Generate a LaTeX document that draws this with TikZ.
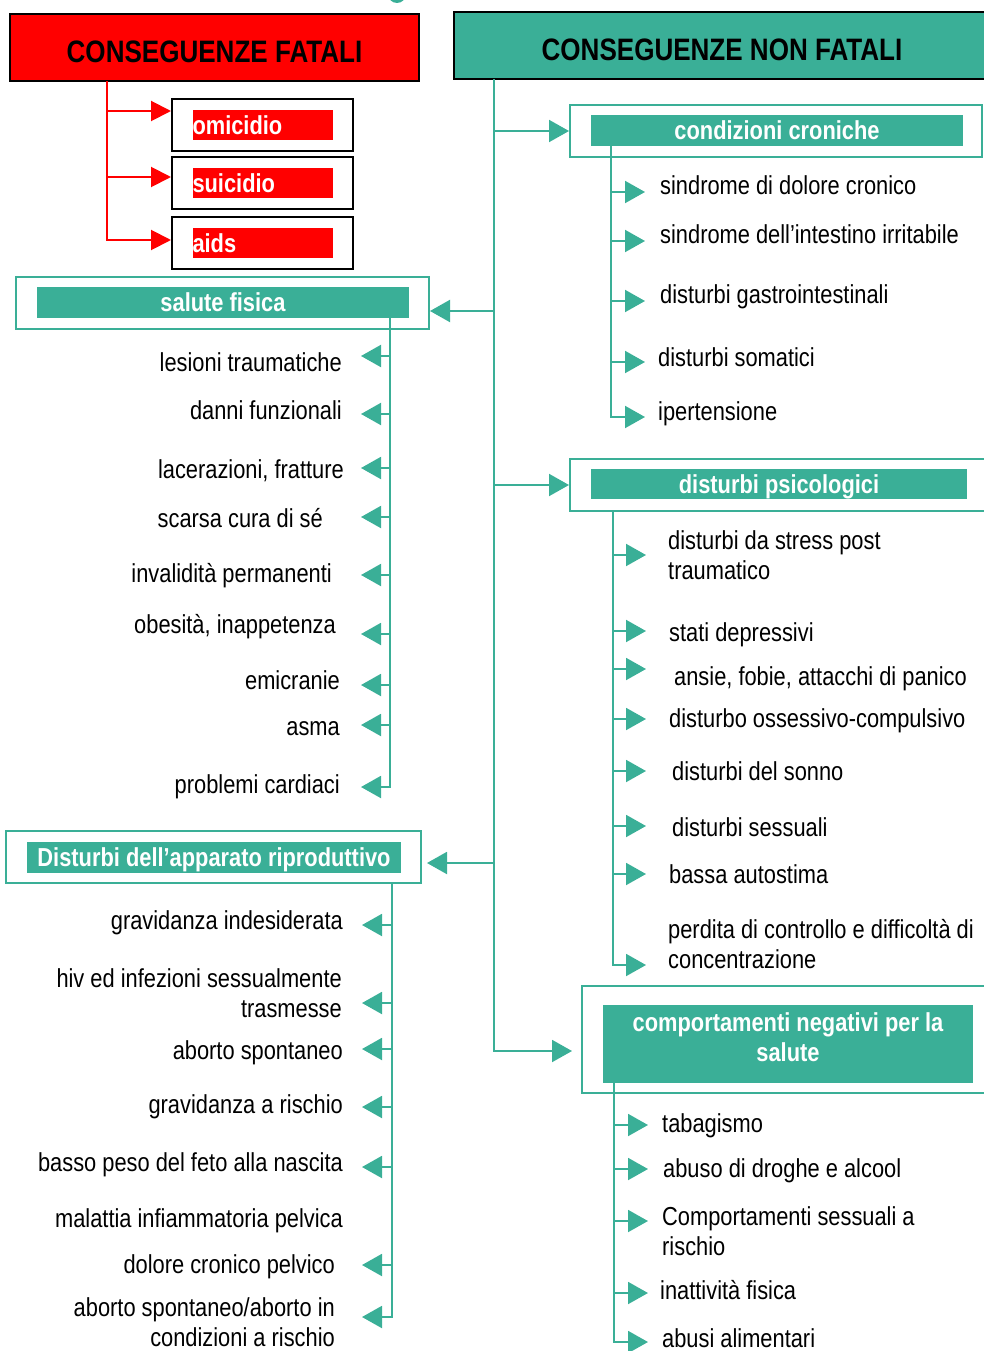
\documentclass[tikz,border=0pt]{standalone}
\usepackage{fontspec}
\setmainfont{Liberation Sans}[FakeStretch=0.84]
\usetikzlibrary{arrows.meta}
\definecolor{verde}{RGB}{58,175,151}
\tikzset{
  voce/.style={inner sep=0pt, font=\fontsize{26}{30}\selectfont},
  fascia/.style={fill=verde, text=white, inner sep=0pt, text height=18pt, text depth=0pt, font=\bfseries\fontsize{26}{30}\selectfont},
  cornice/.style={draw=verde, line width=2pt, fill=white, inner sep=0pt},
  titolo/.style={draw=black, line width=2pt, inner sep=0pt, text height=30pt, text depth=0pt, font=\bfseries\fontsize{31}{36}\selectfont},
  riquadro/.style={draw=black, line width=2pt, fill=white, inner sep=0pt},
  rossa/.style={fill=red, text=white, inner sep=0pt, font=\bfseries\fontsize{26}{30}\selectfont, text width=140pt, align=left, minimum height=30pt},
  linea/.style={draw=verde, line width=2pt},
  freccia/.style={linea, -{Triangle[length=20pt,width=22pt]}},
  frossa/.style={draw=red, line width=2pt, -{Triangle[length=20pt,width=20pt]}},
}
\begin{document}
\begin{tikzpicture}[x=1pt, y=-1pt]
            \useasboundingbox (0,0) rectangle (983,1351);
            \fill[verde] (397,-6) circle (9pt);
            \node[titolo, fill=red, minimum width=409, minimum height=67] (fatali) at (214.5,47.5) {CONSEGUENZE FATALI};
            \node[titolo, fill=verde, minimum width=536, minimum height=67] (nonfatali) at (722,45.5) {CONSEGUENZE NON FATALI};

            \node[riquadro, minimum width=181, minimum height=52] (bomicidio) at (262.5,125) {};
            \node[rossa] (omicidio) at (bomicidio.center) {omicidio};
            \node[riquadro, minimum width=181, minimum height=52] (bsuicidio) at (262.5,183) {};
            \node[rossa] (suicidio) at (bsuicidio.center) {suicidio};
            \node[riquadro, minimum width=181, minimum height=52] (baids) at (262.5,243) {};
            \node[rossa] (aids) at (baids.center) {aids};
            \coordinate (rtr) at (107,81);
            \coordinate (pomicidio) at ([yshift=14pt]bomicidio.west);
            \coordinate (psuicidio) at ([yshift=6pt]bsuicidio.west);
            \coordinate (paids) at ([yshift=3pt]baids.west);
            \draw[frossa] (rtr) |- (paids);
            \draw[frossa] (rtr |- pomicidio) -- (pomicidio);
            \draw[frossa] (rtr |- psuicidio) -- (psuicidio);

            \node[cornice, minimum width=412, minimum height=52] (ccf) at (776,131) {};
            \node[fascia, minimum width=372, minimum height=31] (cc) at (777,130.5) {condizioni croniche};
            \node[cornice, minimum width=413, minimum height=52] (sff) at (222.5,303) {};
            \node[fascia, minimum width=372, minimum height=31] (sf) at (223,302.5) {salute fisica};
            \node[cornice, minimum width=420, minimum height=52] (dpf) at (780,485) {};
            \node[fascia, minimum width=376, minimum height=30] (dp) at (779,484) {disturbi psicologici};
            \node[cornice, minimum width=415, minimum height=52] (darf) at (213.5,857) {};
            \node[fascia, minimum width=374, minimum height=31] (dar) at (214,857.5) {Disturbi dell’apparato riproduttivo};
            \node[cornice, minimum width=408, minimum height=107] (cnf) at (786,1039.5) {};
            \node[fascia, minimum width=370, minimum height=78, align=center, text height=48pt, text depth=14pt] (cn) at (788,1044) {comportamenti negativi per la\\salute};

            \coordinate (tr) at (494,79);
            \coordinate (psf) at ([yshift=-8pt]sff.east);
            \coordinate (pdar) at ([xshift=5pt,yshift=-6pt]darf.east);
            \coordinate (pcn) at ([xshift=-9pt,yshift=-11.5pt]cnf.west);
            \draw[freccia] (tr) |- (pcn);
            \draw[freccia] (tr |- ccf.west) -- (ccf.west);
            \draw[freccia] (tr |- psf) -- (psf);
            \draw[freccia] (tr |- dpf.west) -- (dpf.west);
            \draw[freccia] (tr |- pdar) -- (pdar);

            \node[voce, anchor=base west] (cc1) at (660,194) {sindrome di dolore cronico};
            \node[voce, anchor=base west] (cc2) at (660,243) {sindrome dell’intestino irritabile};
            \node[voce, anchor=base west] (cc3) at (660,303) {disturbi gastrointestinali};
            \node[voce, anchor=base west] (cc4) at (658,366) {disturbi somatici};
            \node[voce, anchor=base west] (cc5) at (658,420) {ipertensione};
            \coordinate (ccl) at (611,146);
            \coordinate (a1) at (645,192);
            \coordinate (a2) at (645,241);
            \coordinate (a3) at (645,301);
            \coordinate (a4) at (645,362);
            \coordinate (a5) at (645,417);
            \draw[freccia] (ccl) |- (a5);
            \draw[freccia] (ccl |- a1) -- (a1);
            \draw[freccia] (ccl |- a2) -- (a2);
            \draw[freccia] (ccl |- a3) -- (a3);
            \draw[freccia] (ccl |- a4) -- (a4);

            \node[voce, anchor=base east] (sf1) at (342,371) {lesioni traumatiche};
            \node[voce, anchor=base east] (sf2) at (342,419) {danni funzionali};
            \node[voce, anchor=base east] (sf3) at (344,478) {lacerazioni, fratture};
            \node[voce, anchor=base east] (sf4) at (323,527) {scarsa cura di sé};
            \node[voce, anchor=base east] (sf5) at (332,582) {invalidità permanenti};
            \node[voce, anchor=base east] (sf6) at (336,633) {obesità, inappetenza};
            \node[voce, anchor=base east] (sf7) at (340,689) {emicranie};
            \node[voce, anchor=base east] (sf8) at (340,735) {asma};
            \node[voce, anchor=base east] (sf9) at (340,793) {problemi cardiaci};
            \coordinate (sfl) at (390,318);
            \coordinate (c1) at (361,356);
            \coordinate (c2) at (361,414);
            \coordinate (c3) at (361,468);
            \coordinate (c4) at (361,517);
            \coordinate (c5) at (361,575);
            \coordinate (c6) at (361,634);
            \coordinate (c7) at (361,685);
            \coordinate (c8) at (361,725);
            \coordinate (c9) at (361,787);
            \draw[freccia] (sfl) |- (c9);
            \draw[freccia] (sfl |- c1) -- (c1);
            \draw[freccia] (sfl |- c2) -- (c2);
            \draw[freccia] (sfl |- c3) -- (c3);
            \draw[freccia] (sfl |- c4) -- (c4);
            \draw[freccia] (sfl |- c5) -- (c5);
            \draw[freccia] (sfl |- c6) -- (c6);
            \draw[freccia] (sfl |- c7) -- (c7);
            \draw[freccia] (sfl |- c8) -- (c8);

            \node[voce, anchor=base west, align=left] (dp1) at (668,579) {disturbi da stress post\\traumatico};
            \node[voce, anchor=base west] (dp2) at (669,641) {stati depressivi};
            \node[voce, anchor=base west] (dp3) at (674,685) {ansie, fobie, attacchi di panico};
            \node[voce, anchor=base west] (dp4) at (669,727.5) {disturbo ossessivo-compulsivo};
            \node[voce, anchor=base west] (dp5) at (672,780) {disturbi del sonno};
            \node[voce, anchor=base west] (dp6) at (672,836) {disturbi sessuali};
            \node[voce, anchor=base west] (dp7) at (669,883) {bassa autostima};
            \node[voce, anchor=base west, align=left] (dp8) at (668,968.5) {perdita di controllo e difficoltà di\\concentrazione};
            \coordinate (dpl) at (613,511);
            \coordinate (b1) at (646,555);
            \coordinate (b2) at (646,631);
            \coordinate (b3) at (646,669);
            \coordinate (b4) at (646,719);
            \coordinate (b5) at (646,771);
            \coordinate (b6) at (646,826);
            \coordinate (b7) at (646,874);
            \coordinate (b8) at (646,965);
            \draw[freccia] (dpl) |- (b8);
            \draw[freccia] (dpl |- b1) -- (b1);
            \draw[freccia] (dpl |- b2) -- (b2);
            \draw[freccia] (dpl |- b3) -- (b3);
            \draw[freccia] (dpl |- b4) -- (b4);
            \draw[freccia] (dpl |- b5) -- (b5);
            \draw[freccia] (dpl |- b6) -- (b6);
            \draw[freccia] (dpl |- b7) -- (b7);

            \node[voce, anchor=base east] (dar1) at (343,929) {gravidanza indesiderata};
            \node[voce, anchor=base east, align=right] (dar2) at (342,1017) {hiv ed infezioni sessualmente\\trasmesse};
            \node[voce, anchor=base east] (dar3) at (343,1059) {aborto spontaneo};
            \node[voce, anchor=base east] (dar4) at (343,1113) {gravidanza a rischio};
            \node[voce, anchor=base east] (dar5) at (343,1171) {basso peso del feto alla nascita};
            \node[voce, anchor=base east] (dar6) at (343,1227) {malattia infiammatoria pelvica};
            \node[voce, anchor=base east] (dar7) at (335,1273) {dolore cronico pelvico};
            \node[voce, anchor=base east, align=right] (dar8) at (335,1346) {aborto spontaneo/aborto in\\condizioni a rischio};
            \coordinate (darl) at (392,883);
            \coordinate (d1) at (362,925);
            \coordinate (d2) at (362,1003);
            \coordinate (d3) at (362,1049);
            \coordinate (d4) at (362,1107);
            \coordinate (d5) at (362,1167);
            \coordinate (d6) at (362,1265);
            \coordinate (d7) at (362,1317);
            \draw[freccia] (darl) |- (d7);
            \draw[freccia] (darl |- d1) -- (d1);
            \draw[freccia] (darl |- d2) -- (d2);
            \draw[freccia] (darl |- d3) -- (d3);
            \draw[freccia] (darl |- d4) -- (d4);
            \draw[freccia] (darl |- d5) -- (d5);
            \draw[freccia] (darl |- d6) -- (d6);

            \node[voce, anchor=base west] (cn1) at (662,1132) {tabagismo};
            \node[voce, anchor=base west] (cn2) at (663,1177) {abuso di droghe e alcool};
            \node[voce, anchor=base west, align=left] (cn3) at (662,1255) {Comportamenti sessuali a\\rischio};
            \node[voce, anchor=base west] (cn4) at (660,1299) {inattività fisica};
            \node[voce, anchor=base west] (cn5) at (662,1347) {abusi alimentari};
            \coordinate (cnl) at (614,1083);
            \coordinate (e1) at (648,1125);
            \coordinate (e2) at (648,1169);
            \coordinate (e3) at (648,1221);
            \coordinate (e4) at (648,1293);
            \coordinate (e5) at (648,1342);
            \draw[freccia] (cnl) |- (e5);
            \draw[freccia] (cnl |- e1) -- (e1);
            \draw[freccia] (cnl |- e2) -- (e2);
            \draw[freccia] (cnl |- e3) -- (e3);
            \draw[freccia] (cnl |- e4) -- (e4);
        \end{tikzpicture}
\end{document}
